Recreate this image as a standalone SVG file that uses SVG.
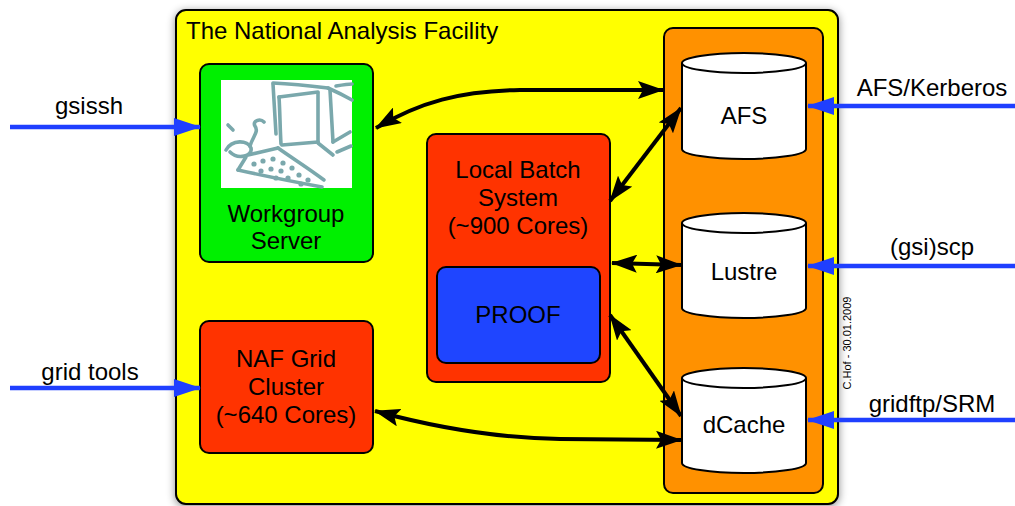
<svg xmlns="http://www.w3.org/2000/svg" width="1015" height="506" viewBox="0 0 1015 506">
  <style>
    text { font-family: "Liberation Sans", Arial, sans-serif; font-size: 24px; fill: #000; }
    .mid { text-anchor: middle; }
    .box { stroke: #000; stroke-width: 2; }
    .cyl { fill: #fff; stroke: #000; stroke-width: 2; }
    .link { fill: none; stroke: #000; stroke-width: 4; marker-start: url(#blackHead); marker-end: url(#blackHead); }
    .ext { fill: none; stroke: #1f3fff; stroke-width: 4.5; marker-end: url(#blueHead); }
    .sketch { fill: none; stroke: #7aa8ac; stroke-width: 3.6; stroke-linecap: round; stroke-linejoin: round; }
    .key { fill: #7aa8ac; }
  </style>
  <defs>
    <filter id="shadow" x="-5%" y="-5%" width="110%" height="110%">
      <feDropShadow dx="0" dy="2" stdDeviation="4" flood-color="#000" flood-opacity="0.45"/>
    </filter>
    <marker id="blackHead" viewBox="0 0 26 18" refX="25" refY="9" markerWidth="26" markerHeight="18" markerUnits="userSpaceOnUse" orient="auto-start-reverse">
      <path d="M0,0 L26,9 L0,18 L5,9 z" fill="#000"/>
    </marker>
    <marker id="blueHead" viewBox="0 0 27 18" refX="26" refY="9" markerWidth="27" markerHeight="18" markerUnits="userSpaceOnUse" orient="auto">
      <path d="M0,0 L27,9 L0,18 z" fill="#1f3fff"/>
    </marker>
  </defs>

  <rect width="1015" height="506" fill="#fff"/>

  <!-- facility frame -->
  <g id="facility">
    <rect x="176" y="10" width="662" height="494" rx="10" fill="#ffff00" class="box" filter="url(#shadow)"/>
    <text x="186" y="39">The National Analysis Facility</text>
  </g>

  <!-- storage column -->
  <g id="storage">
    <rect x="664" y="28" width="159" height="465" rx="9" fill="#ff9100" class="box"/>
  </g>

  <g id="afs">
    <path class="cyl" d="M682,63 V149 A62,10 0 0 0 806,149 V63"/>
    <ellipse class="cyl" cx="744" cy="63" rx="62" ry="10"/>
    <text class="mid" x="744" y="124">AFS</text>
  </g>

  <g id="lustre">
    <path class="cyl" d="M682,223 V308 A62,10 0 0 0 806,308 V223"/>
    <ellipse class="cyl" cx="744" cy="223" rx="62" ry="10"/>
    <text class="mid" x="744" y="280">Lustre</text>
  </g>

  <g id="dcache">
    <path class="cyl" d="M682,378 V463 A62,10 0 0 0 806,463 V378"/>
    <ellipse class="cyl" cx="744" cy="378" rx="62" ry="10"/>
    <text class="mid" x="744" y="433">dCache</text>
  </g>

  <!-- workgroup server with computer sketch -->
  <g id="workgroup">
    <rect x="200" y="64" width="173" height="198" rx="9" fill="#00f000" class="box"/>
    <rect x="221" y="80" width="131" height="108" fill="#fff"/>
    <g class="sketch">
      <!-- monitor frame -->
      <path d="M273,84 C274,100 275,118 276,134"/>
      <path d="M273,83 C292,84 311,86 328,88"/>
      <path d="M328,88 C337,92 345,96 352,100"/>
      <path d="M336,86 C342,85 348,84 352,84"/>
      <path d="M330,90 C331,108 332,125 333,142"/>
      <!-- screen -->
      <path d="M279,97 C280,112 280,128 281,144"/>
      <path d="M279,97 L318,92"/>
      <path d="M318,93 C318,108 318,125 318,142"/>
      <path d="M282,145 L318,142"/>
      <path d="M333,142 L350,132"/>
      <path d="M318,143 L333,155"/>
      <!-- keyboard -->
      <path d="M248,155 L278,148"/>
      <path d="M278,148 C292,158 308,168 324,180"/>
      <path d="M238,170 C265,176 295,182 322,187"/>
      <path d="M238,170 L246,157"/>
      <!-- mouse and cord -->
      <path d="M226,150 C232,139 248,140 251,148 C253,156 238,160 230,152"/>
      <path d="M250,146 C253,136 259,132 255,126 C252,121 260,118 264,122"/>
      <path d="M228,125 L233,130"/>
      <path d="M337,152 L351,146"/>
    </g>
    <g class="key">
      <circle cx="254" cy="164" r="2.6"/>
      <circle cx="263" cy="161" r="2.6"/>
      <circle cx="273" cy="159" r="2.6"/>
      <circle cx="283" cy="163" r="2.6"/>
      <circle cx="261" cy="171" r="2.6"/>
      <circle cx="271" cy="169" r="2.6"/>
      <circle cx="281" cy="171" r="2.6"/>
      <circle cx="292" cy="168" r="2.6"/>
      <circle cx="299" cy="175" r="2.6"/>
      <circle cx="288" cy="178" r="2.6"/>
      <circle cx="276" cy="178" r="2.6"/>
      <circle cx="308" cy="180" r="2.6"/>
      <circle cx="301" cy="184" r="2.6"/>
    </g>
    <text class="mid" x="286" y="222">Workgroup</text>
    <text class="mid" x="286" y="249">Server</text>
  </g>

  <g id="naf-grid">
    <rect x="200" y="321" width="173" height="132" rx="9" fill="#ff3300" class="box"/>
    <text class="mid" x="286" y="367">NAF Grid</text>
    <text class="mid" x="286" y="395">Cluster</text>
    <text class="mid" x="286" y="423">(~640 Cores)</text>
  </g>

  <g id="batch">
    <rect x="427" y="134" width="183" height="248" rx="9" fill="#ff3300" class="box"/>
    <text class="mid" x="518" y="178">Local Batch</text>
    <text class="mid" x="518" y="206">System</text>
    <text class="mid" x="518" y="234">(~900 Cores)</text>
  </g>

  <g id="proof">
    <rect x="437" y="267" width="163" height="96" rx="9" fill="#1f45ff" class="box"/>
    <text class="mid" x="518" y="323">PROOF</text>
  </g>

  <!-- connectors -->
  <g id="connectors">
    <path class="link" d="M376,128 C420,102 460,91 520,90 L663,90"/>
    <path class="link" d="M610,201 L681,108"/>
    <path class="link" d="M612,263 L681,265"/>
    <path class="link" d="M610,315 L681,416"/>
    <path class="link" d="M375,411 C430,426 490,438 560,439 L681,440"/>

    <path class="ext" d="M10,127 L200,127"/>
    <path class="ext" d="M10,388 L200,388"/>
    <path class="ext" d="M1015,106 L808,106"/>
    <path class="ext" d="M1015,266 L808,266"/>
    <path class="ext" d="M1015,420 L808,420"/>
  </g>

  <!-- access method labels -->
  <g id="labels">
    <text class="mid" x="89" y="114">gsissh</text>
    <text class="mid" x="90" y="380">grid tools</text>
    <text class="mid" x="932" y="96">AFS/Kerberos</text>
    <text class="mid" x="932" y="255">(gsi)scp</text>
    <text class="mid" x="932" y="412">gridftp/SRM</text>
    <text transform="translate(851,343) rotate(-90)" class="mid" style="font-size:11px">C.Hof - 30.01.2009</text>
  </g>
</svg>
